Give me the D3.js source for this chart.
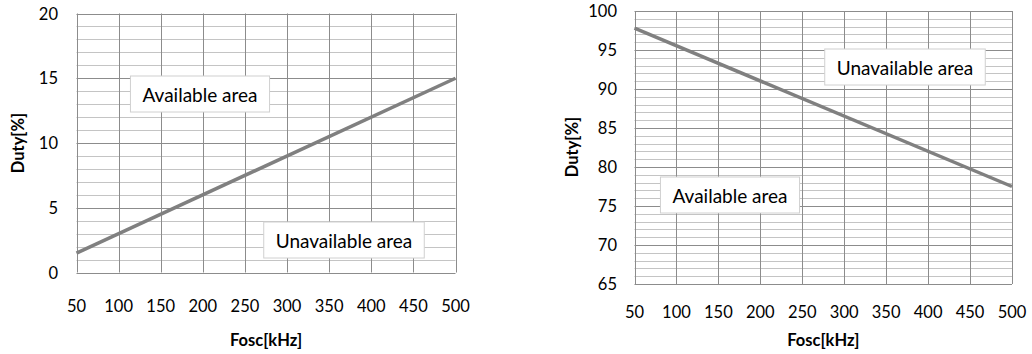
<!DOCTYPE html>
<html><head><meta charset="utf-8">
<script src="https://cdn.jsdelivr.net/npm/d3@7"></script>
<style>
body{margin:0;background:#fff;}
svg text{font-family:Lato,"Open Sans",sans-serif;fill:#000;}
</style></head>
<body>
<svg id="c" width="1032" height="354"></svg>
<script>
const freq = [50, 500];
const dutyMin = [1.5, 15];
const dutyMax = [97.8, 77.5];
const xTicks = [50,100,150,200,250,300,350,400,450,500];
const yTicksLeft = [0,5,10,15,20];
const yTicksRight = [65,70,75,80,85,90,95,100];
const xTitle = "Fosc[kHz]";
const yTitle = "Duty[%]";
const leftLabels = [{text:"Available area", x:200, y:94},{text:"Unavailable area", x:344, y:240}];
const rightLabels = [{text:"Unavailable area", x:905, y:67},{text:"Available area", x:730, y:195}];

const svg = d3.select("#c");

function panel(cfg){
  const g = svg.append("g");
  const x = d3.scaleLinear().domain([50,500]).range([cfg.x0, cfg.x1]);
  const y = d3.scaleLinear().domain(cfg.domain).range([cfg.y0, cfg.y1]);
  const minor = d3.range(cfg.domain[0], cfg.domain[1]+0.001, 1);
  g.selectAll(".mn").data(minor).enter().append("line")
    .attr("x1", cfg.x0).attr("x2", cfg.x1)
    .attr("y1", d=>Math.round(y(d))+0.5).attr("y2", d=>Math.round(y(d))+0.5)
    .attr("stroke", d=> (d%5===0) ? "#8c8c8c" : "#c4c4c4").attr("stroke-width",1);
  g.selectAll(".vx").data(xTicks).enter().append("line")
    .attr("x1", d=>Math.round(x(d))+0.5).attr("x2", d=>Math.round(x(d))+0.5)
    .attr("y1", cfg.y1).attr("y2", cfg.y0)
    .attr("stroke", "#8c8c8c").attr("stroke-width",1);
  g.selectAll(".xt").data(xTicks).enter().append("text")
    .attr("x", d=>x(d)).attr("y", cfg.xTickY).attr("text-anchor","middle")
    .attr("dominant-baseline","central").style("font-size","16.5px").text(d=>d);
  g.selectAll(".yt").data(cfg.yTicks).enter().append("text")
    .attr("x", cfg.yTickX).attr("y", d=>y(d)).attr("text-anchor","end")
    .attr("dominant-baseline","central").style("font-size","16.5px").text(d=>d);
  g.append("text").attr("x",(cfg.x0+cfg.x1)/2).attr("y",340).attr("text-anchor","middle")
    .attr("dominant-baseline","central").style("font-size","16.5px").style("font-weight","bold").text(xTitle);
  g.append("text").attr("transform",`translate(${cfg.yTitleX},${cfg.yTitleY}) rotate(-90)`)
    .attr("text-anchor","middle").attr("dominant-baseline","central")
    .style("font-size","16.5px").style("font-weight","bold").text(yTitle);
  const line = d3.line().x((d,i)=>x(freq[i])).y(d=>y(d));
  g.append("path").datum(cfg.vals).attr("d", line).attr("fill","none")
    .attr("stroke","#808080").attr("stroke-width",3.5);
  cfg.labels.forEach(l=>{
    const t = g.append("text").attr("x",l.x).attr("y",l.y).attr("text-anchor","middle")
      .attr("dominant-baseline","central").style("font-size","19px").text(l.text);
    const bb = t.node().getBBox();
    g.insert("rect", "text:last-child")
      .attr("x", bb.x-12).attr("y", l.y-18).attr("width", bb.width+24).attr("height", 36)
      .attr("fill","#fff").attr("stroke","#d0d0d0");
    t.raise();
  });
}

panel({x0:76.5, x1:455.5, y0:272.5, y1:13.5, domain:[0,20], yTicks:yTicksLeft, vals:dutyMin,
  xTickY:306, yTickX:58, yTitleX:18, yTitleY:143, labels:leftLabels});
panel({x0:634.5, x1:1012, y0:284, y1:11, domain:[65,100], yTicks:yTicksRight, vals:dutyMax,
  xTickY:312, yTickX:617, yTitleX:572, yTitleY:147, labels:rightLabels});
</script>
</body></html>
